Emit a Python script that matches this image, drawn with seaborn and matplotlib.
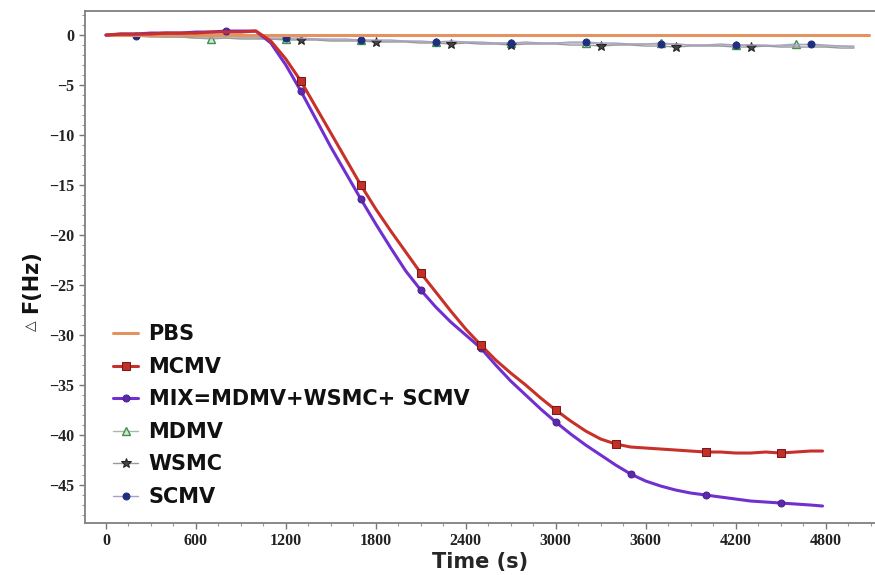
import matplotlib
matplotlib.use("Agg")
import matplotlib.pyplot as plt
from matplotlib.ticker import MultipleLocator
import seaborn as sns

# time grid (s) for the two binding curves
t_main = [0, 100, 200, 300, 400, 500, 600, 700, 800, 900,
          1000, 1100, 1200, 1300, 1400, 1500, 1600, 1700, 1800, 1900,
          2000, 2100, 2200, 2300, 2400, 2500, 2600, 2700, 2800, 2900,
          3000, 3100, 3200, 3300, 3400, 3500, 3600, 3700, 3800, 3900,
          4000, 4100, 4200, 4300, 4400, 4500, 4600, 4700, 4780]

mcmv = [0.0, 0.1, 0.1, 0.1, 0.2, 0.2, 0.2, 0.3, 0.3, 0.3,
        0.4, -0.6, -2.4, -4.6, -7.2, -9.8, -12.4, -15.0, -17.4, -19.6,
        -21.7, -23.8, -25.7, -27.6, -29.4, -31.0, -32.5, -33.8, -35.0, -36.3,
        -37.5, -38.6, -39.6, -40.4, -40.9, -41.2, -41.3, -41.4, -41.5, -41.6,
        -41.7, -41.7, -41.8, -41.8, -41.7, -41.8, -41.7, -41.6, -41.6]

mix = [0.0, 0.1, 0.1, 0.2, 0.2, 0.2, 0.3, 0.3, 0.4, 0.4,
       0.4, -0.8, -3.0, -5.6, -8.4, -11.2, -13.8, -16.4, -18.9, -21.3,
       -23.6, -25.5, -27.2, -28.7, -30.0, -31.3, -33.0, -34.6, -36.0, -37.4,
       -38.7, -39.9, -41.0, -42.0, -43.0, -43.9, -44.6, -45.1, -45.5, -45.8,
       -46.0, -46.2, -46.4, -46.6, -46.7, -46.8, -46.9, -47.0, -47.1]

# time grid (s) for the non-target viruses
t_flat = [0, 100, 200, 300, 400, 500, 600, 700, 800, 900,
          1000, 1100, 1200, 1300, 1400, 1500, 1600, 1700, 1800, 1900,
          2000, 2100, 2200, 2300, 2400, 2500, 2600, 2700, 2800, 2900,
          3000, 3100, 3200, 3300, 3400, 3500, 3600, 3700, 3800, 3900,
          4000, 4100, 4200, 4300, 4400, 4500, 4600, 4700, 4800, 4900, 4990]

scmv = [0.0, 0.0, -0.1, 0.0, 0.0, -0.1, -0.1, -0.2, -0.1, -0.2,
        -0.2, -0.3, -0.3, -0.3, -0.4, -0.4, -0.4, -0.5, -0.5, -0.5,
        -0.6, -0.6, -0.7, -0.6, -0.7, -0.7, -0.8, -0.8, -0.7, -0.8,
        -0.8, -0.7, -0.7, -0.8, -0.8, -0.9, -0.9, -0.9, -0.9, -1.0,
        -1.0, -0.9, -1.0, -1.0, -1.0, -1.1, -1.0, -0.9, -1.0, -1.1, -1.1]

mdmv = [0.0, -0.1, -0.1, -0.1, -0.2, -0.2, -0.3, -0.4, -0.3, -0.3,
        -0.3, -0.4, -0.4, -0.4, -0.4, -0.5, -0.5, -0.5, -0.6, -0.6,
        -0.6, -0.7, -0.7, -0.7, -0.7, -0.8, -0.8, -0.8, -0.8, -0.8,
        -0.8, -0.8, -0.8, -0.9, -0.9, -0.9, -0.9, -0.8, -0.9, -1.0,
        -1.0, -1.0, -1.0, -1.0, -1.1, -1.0, -0.9, -1.0, -1.1, -1.1, -1.2]

wsmc = [0.0, -0.1, -0.1, -0.2, -0.2, -0.2, -0.3, -0.3, -0.3, -0.4,
        -0.4, -0.4, -0.5, -0.5, -0.5, -0.6, -0.6, -0.6, -0.7, -0.7,
        -0.7, -0.8, -0.8, -0.9, -0.8, -0.9, -0.9, -1.0, -0.9, -0.9,
        -0.9, -1.0, -1.0, -1.1, -1.0, -1.0, -1.1, -1.1, -1.2, -1.1,
        -1.1, -1.1, -1.2, -1.2, -1.1, -1.2, -1.2, -1.2, -1.2, -1.3, -1.3]

t_pbs = [0, 5090]
pbs = [0.0, 0.0]

labels = ["PBS", "MCMV", "MIX=MDMV+WSMC+ SCMV", "MDMV", "WSMC", "SCMV"]
xticks = [0, 600, 1200, 1800, 2400, 3000, 3600, 4200, 4800]
yticks = [0, -5, -10, -15, -20, -25, -30, -35, -40, -45]

sns.set_theme(style="ticks")
fig = plt.figure(figsize=(8.75, 5.75), dpi=100)
ax = fig.add_axes([0.0971, 0.0904, 0.9029, 0.8904])

sns.lineplot(x=t_flat, y=mdmv, ax=ax, color="#a9b8a9", lw=1.0, marker="^",
             markevery=[7, 12, 17, 22, 27, 32, 37, 42, 46], ms=6,
             mfc="#cfe8cf", mec="#3f8f4f", mew=1.0, label=labels[3],
             estimator=None, sort=False)
sns.lineplot(x=t_flat, y=wsmc, ax=ax, color="#9a9a9a", lw=1.0, marker="*",
             markevery=[13, 18, 23, 27, 33, 38, 43], ms=7,
             mfc="#444444", mec="#222222", label=labels[4],
             estimator=None, sort=False)
sns.lineplot(x=t_flat, y=scmv, ax=ax, color="#a8a0c8", lw=1.0, marker="o",
             markevery=[2, 12, 17, 22, 27, 32, 37, 42, 47], ms=5,
             mfc="#1f2f80", mec="#1f2f80", label=labels[5],
             estimator=None, sort=False)
sns.lineplot(x=t_pbs, y=pbs, ax=ax, color="#e3935f", lw=2.2, label=labels[0],
             estimator=None, sort=False)
sns.lineplot(x=t_main, y=mix, ax=ax, color="#7030d0", lw=2.2, marker="o",
             markevery=[8, 13, 17, 21, 25, 30, 35, 40, 45], ms=5,
             mfc="#5a2aa8", mec="#4a2090", label=labels[2],
             estimator=None, sort=False)
sns.lineplot(x=t_main, y=mcmv, ax=ax, color="#c8302a", lw=2.2, marker="s",
             markevery=[13, 17, 21, 25, 30, 34, 40, 45], ms=6,
             mfc="#c23028", mec="#7a1a18", label=labels[1],
             estimator=None, sort=False)

ax.set_xlim(-140, 5130)
ax.set_ylim(-48.8, 2.4)
ax.set_xticks(xticks)
ax.set_yticks(yticks)
ax.xaxis.set_minor_locator(MultipleLocator(150))
ax.yaxis.set_minor_locator(MultipleLocator(1))
ax.tick_params(which="major", length=4, width=1, color="#777777")
ax.tick_params(which="minor", length=2.5, width=0.8, color="#999999")
for lab in ax.get_xticklabels() + ax.get_yticklabels():
    lab.set_fontfamily("Liberation Serif")
    lab.set_fontweight("bold")
    lab.set_fontsize(11.5)
    lab.set_color("#222222")
for side in ["left", "bottom", "top"]:
    ax.spines[side].set_color("#808080")
    ax.spines[side].set_linewidth(1.3)
ax.spines["right"].set_visible(False)

ax.set_xlabel("Time (s)", fontsize=15, fontweight="bold", labelpad=2)
ax.set_ylabel("")
# y label: small plain triangle followed by bold F(Hz)
fig.text(0.036, 0.434, "\u25b3", rotation=90, fontsize=10, va="center", ha="center",
         family="DejaVu Sans", color="#222222")
fig.text(0.036, 0.51, "F(Hz)", rotation=90, fontsize=15, fontweight="bold",
         va="center", ha="center", color="#111111")

handles, labs = ax.get_legend_handles_labels()
order = [labs.index(n) for n in labels]
leg = ax.legend([handles[i] for i in order], [labs[i] for i in order],
                loc="lower left", bbox_to_anchor=(0.012, -0.005), frameon=False,
                handlelength=1.2, handletextpad=0.5, labelspacing=0.6,
                prop={"weight": "bold", "size": 15})
for txt in leg.get_texts():
    txt.set_color("#111111")

fig.savefig("out.png", dpi=100)
